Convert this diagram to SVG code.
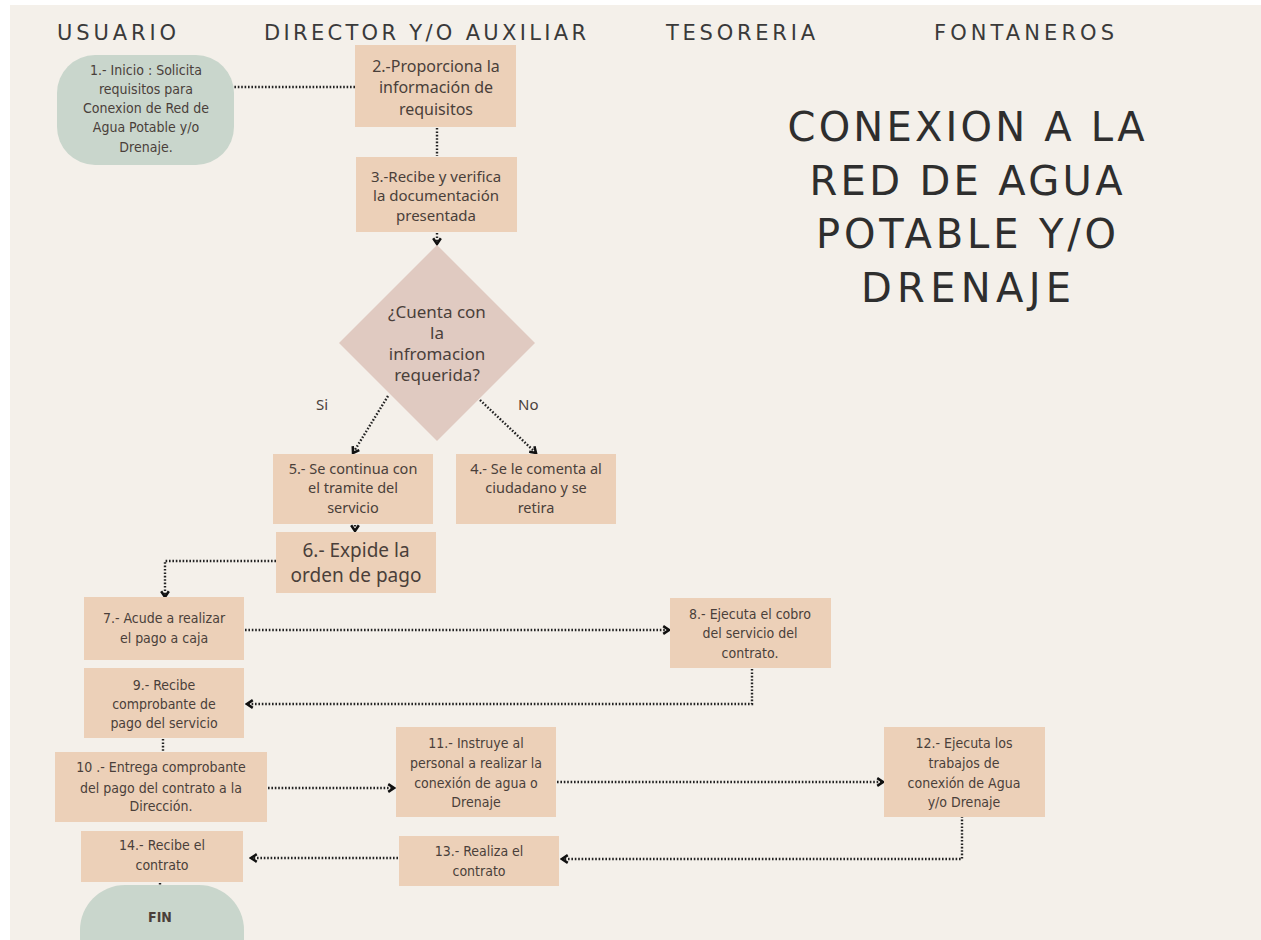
<svg xmlns="http://www.w3.org/2000/svg" width="1261" height="940" viewBox="0 0 1261 940">
<style>
.bg{fill:#f4f0ea}
.box{fill:#ecd0b8}
.term{fill:#c9d6cc}
.dia{fill:#e0cac1}
.hdr{font-family:"DejaVu Sans","Noto Sans",sans-serif;font-size:21px;fill:#3a3a3a}
.ttl{font-family:"DejaVu Sans","Noto Sans",sans-serif;font-size:40px;fill:#2e2e2e;text-anchor:middle}
.t{font-family:"Noto Sans","Liberation Sans",sans-serif;font-size:14.5px;fill:#4a3f3a;text-anchor:middle}
.n{font-family:"DejaVu Sans Condensed","DejaVu Sans","Liberation Sans",sans-serif;font-stretch:condensed;font-size:14px;fill:#4a3f3a;text-anchor:middle}
.big{font-size:19px}
.dq{font-size:17px}
.mid{font-size:16px}
.mid2{font-size:15px}
.lbl{font-family:"Noto Sans","Liberation Sans",sans-serif;font-size:15px;fill:#4a3f3a}
.c{fill:none;stroke:#222;stroke-width:2.4;stroke-dasharray:1.6 1.8}
</style>
<defs>
<marker id="arr" viewBox="0 0 10 10" refX="8" refY="5" markerWidth="4" markerHeight="4" orient="auto" markerUnits="strokeWidth">
<polyline points="2,1 8,5 2,9" fill="none" stroke="#111" stroke-width="2.6"/>
</marker>
</defs>
<rect x="0" y="0" width="1261" height="940" fill="#ffffff"/>
<rect class="bg" x="10" y="5" width="1251" height="935"/>

<g id="headers">
<text class="hdr" x="57" y="40" textLength="119" lengthAdjust="spacing">USUARIO</text>
<text class="hdr" x="264" y="40" textLength="322" lengthAdjust="spacing">DIRECTOR Y/O AUXILIAR</text>
<text class="hdr" x="666" y="40" textLength="149" lengthAdjust="spacing">TESORERIA</text>
<text class="hdr" x="934" y="40" textLength="180" lengthAdjust="spacing">FONTANEROS</text>
</g>
<g id="title">
<text class="ttl" x="966" y="141" textLength="357" lengthAdjust="spacing">CONEXION A LA</text>
<text class="ttl" x="966" y="195" textLength="313" lengthAdjust="spacing">RED DE AGUA</text>
<text class="ttl" x="966" y="248" textLength="300" lengthAdjust="spacing">POTABLE Y/O</text>
<text class="ttl" x="966" y="302" textLength="210" lengthAdjust="spacing">DRENAJE</text>
</g>

<g id="connectors">
<path class="c" d="M231,87 H355"/>
<path class="c" d="M437,128 V156"/>
<path class="c" d="M437,233 V244" marker-end="url(#arr)"/>
<path class="c" d="M388,396 L353,453" marker-end="url(#arr)"/>
<path class="c" d="M480,400 L536,453" marker-end="url(#arr)"/>
<path class="c" d="M355,525 V531" marker-end="url(#arr)"/>
<path class="c" d="M276,561 H165 V597" marker-end="url(#arr)"/>
<path class="c" d="M245,630 H669" marker-end="url(#arr)"/>
<path class="c" d="M752,669 V704 H247" marker-end="url(#arr)"/>
<path class="c" d="M163,739 V766"/>
<path class="c" d="M268,788 H394" marker-end="url(#arr)"/>
<path class="c" d="M557,782 H883" marker-end="url(#arr)"/>
<path class="c" d="M962,806 V859 H562" marker-end="url(#arr)"/>
<path class="c" d="M398,858 H251" marker-end="url(#arr)"/>
<path class="c" d="M160,883 V916"/>
</g>

<g id="n1">
<rect class="term" x="57" y="55" width="177" height="110" rx="38"/>
<text class="n"><tspan x="146" y="75">1.- Inicio : Solicita</tspan><tspan x="146" y="94">requisitos para</tspan><tspan x="146" y="113">Conexion de Red de</tspan><tspan x="146" y="132">Agua Potable y/o</tspan><tspan x="146" y="152">Drenaje.</tspan></text>
</g>
<g id="n2">
<rect class="box" x="355" y="45" width="161" height="82"/>
<text class="t mid"><tspan x="436" y="72">2.-Proporciona la</tspan><tspan x="436" y="93">información de</tspan><tspan x="436" y="115">requisitos</tspan></text>
</g>
<g id="n3">
<rect class="box" x="356" y="157" width="161" height="75"/>
<text class="t mid2"><tspan x="436" y="182">3.-Recibe y verifica</tspan><tspan x="436" y="201">la documentación</tspan><tspan x="436" y="221">presentada</tspan></text>
</g>
<g id="d1">
<polygon class="dia" points="437,245 535,343 437,441 339,343"/>
<text class="t dq"><tspan x="437" y="318">¿Cuenta con</tspan><tspan x="437" y="339">la</tspan><tspan x="437" y="360">infromacion</tspan><tspan x="437" y="381">requerida?</tspan></text>
</g>
<text class="lbl" x="316" y="410">Si</text>
<text class="lbl" x="518" y="410">No</text>
<g id="n5">
<rect class="box" x="273" y="454" width="160" height="70"/>
<text class="t"><tspan x="353" y="474">5.- Se continua con</tspan><tspan x="353" y="493">el tramite del</tspan><tspan x="353" y="513">servicio</tspan></text>
</g>
<g id="n4">
<rect class="box" x="456" y="454" width="160" height="70"/>
<text class="t"><tspan x="536" y="474">4.- Se le comenta al</tspan><tspan x="536" y="493">ciudadano y se</tspan><tspan x="536" y="513">retira</tspan></text>
</g>
<g id="n6">
<rect class="box" x="276" y="532" width="160" height="61"/>
<text class="t big"><tspan x="356" y="557">6.- Expide la</tspan><tspan x="356" y="582">orden de pago</tspan></text>
</g>
<g id="n7">
<rect class="box" x="84" y="597" width="160" height="63"/>
<text class="n"><tspan x="164" y="623">7.- Acude a realizar</tspan><tspan x="164" y="643">el pago a caja</tspan></text>
</g>
<g id="n8">
<rect class="box" x="670" y="598" width="161" height="70"/>
<text class="n"><tspan x="750" y="619">8.- Ejecuta el cobro</tspan><tspan x="750" y="638">del servicio del</tspan><tspan x="750" y="658">contrato.</tspan></text>
</g>
<g id="n9">
<rect class="box" x="84" y="668" width="160" height="70"/>
<text class="n"><tspan x="164" y="690">9.- Recibe</tspan><tspan x="164" y="709">comprobante de</tspan><tspan x="164" y="728">pago del servicio</tspan></text>
</g>
<g id="n10">
<rect class="box" x="55" y="752" width="212" height="70"/>
<text class="n"><tspan x="161" y="772">10 .- Entrega comprobante</tspan><tspan x="161" y="793">del pago del contrato a la</tspan><tspan x="161" y="811">Dirección.</tspan></text>
</g>
<g id="n11">
<rect class="box" x="396" y="727" width="160" height="90"/>
<text class="n"><tspan x="476" y="748">11.- Instruye al</tspan><tspan x="476" y="768">personal a realizar la</tspan><tspan x="476" y="788">conexión de agua o</tspan><tspan x="476" y="807">Drenaje</tspan></text>
</g>
<g id="n12">
<rect class="box" x="884" y="727" width="161" height="90"/>
<text class="n"><tspan x="964" y="748">12.- Ejecuta los</tspan><tspan x="964" y="768">trabajos de</tspan><tspan x="964" y="788">conexión de Agua</tspan><tspan x="964" y="807">y/o Drenaje</tspan></text>
</g>
<g id="n13">
<rect class="box" x="399" y="836" width="160" height="50"/>
<text class="n"><tspan x="479" y="856">13.- Realiza el</tspan><tspan x="479" y="876">contrato</tspan></text>
</g>
<g id="n14">
<rect class="box" x="81" y="831" width="162" height="51"/>
<text class="n"><tspan x="162" y="850">14.- Recibe el</tspan><tspan x="162" y="870">contrato</tspan></text>
</g>
<g id="fin">
<rect class="term" x="80" y="885" width="164" height="100" rx="45"/>
<text class="n" x="160" y="922" style="font-weight:bold">FIN</text>
</g>
</svg>
